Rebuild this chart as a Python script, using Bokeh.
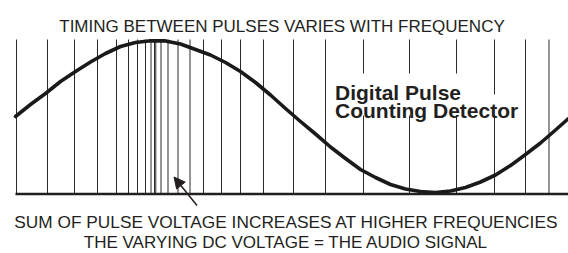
from bokeh.plotting import figure
from bokeh.models import Range1d, Label, Arrow, NormalHead, ColumnDataSource, BoxAnnotation
from bokeh.embed import file_html
from bokeh.resources import INLINE

# ---- data (units = drawing units) ----
pulse_times = [16, 47, 74, 97, 116, 128, 137, 145, 150.5, 154, 155.3, 160.5,
               167.5, 177.5, 189.5, 203, 221, 240, 263, 293, 325, 363, 409,
               456, 494, 525, 548.5]

signal_t = [15, 30, 45, 60, 75, 90, 105, 120, 135, 150, 165, 180, 195, 210,
            225, 240, 255, 270, 285, 300, 315, 330, 345, 360, 375, 390, 405,
            420, 435, 450, 465, 480, 495, 510, 525, 540, 555, 568]
signal_v = [116, 104, 93, 81, 71, 61.5, 53, 46, 42, 40.2, 40.4, 43.5, 49,
            54.5, 62, 71, 82, 94.5, 108, 121, 133.5, 146.5, 158, 169, 177,
            184, 188.5, 191, 192, 190.5, 187, 181.5, 174.5, 165, 154, 142.5,
            129.5, 118]

baseline_t = [15, 568]

title_text = "TIMING BETWEEN PULSES VARIES WITH FREQUENCY"
note1_text = "SUM OF PULSE VOLTAGE INCREASES AT HIGHER FREQUENCIES"
note2_text = "THE VARYING DC VOLTAGE = THE AUDIO SIGNAL"
label1_text = "Digital Pulse"
label2_text = "Counting Detector"

# ---- layout / style constants ----
INK = "#231f20"
PULSE_TOP = 39
BASE_Y = 193.5
FONT = "Liberation Sans"

p = figure(width=568, height=253, output_backend="svg", toolbar_location=None,
           x_range=Range1d(0, 568), y_range=Range1d(253, 0),
           x_axis_type=None, y_axis_type=None,
           min_border=0, min_border_left=0, min_border_right=0,
           min_border_top=0, min_border_bottom=0)
p.outline_line_color = None
p.background_fill_color = "white"
p.border_fill_color = "white"

# pulses
src = ColumnDataSource(dict(x=pulse_times,
                            y0=[PULSE_TOP] * len(pulse_times),
                            y1=[BASE_Y] * len(pulse_times)))
p.segment(x0="x", y0="y0", x1="x", y1="y1", source=src,
          line_color="#2a2a2a", line_width=1)

# baseline
p.line(x=baseline_t, y=[BASE_Y] * len(baseline_t), line_color=INK, line_width=2.5)

# signal
p.line(x=signal_t, y=signal_v, line_color="#1a1a1a", line_width=3.6,
       line_join="round", line_cap="round")

# white backgrounds behind the detector label (interrupt the pulse lines)
for l, r, t, b in ((332, 463, 73, 95), (332, 521, 94, 115)):
    p.add_layout(BoxAnnotation(left=l, right=r, top=t, bottom=b,
                               fill_color="white", fill_alpha=1,
                               line_color=None))

for txt, yb in ((label1_text, 92.3), (label2_text, 110)):
    p.add_layout(Label(x=334.5, y=yb, text=txt, text_font=FONT,
                       text_font_size="21px", text_font_style="bold",
                       text_color=INK, text_baseline="alphabetic"))

# texts
p.add_layout(Label(x=281.5, y=25.5, text=title_text, text_font=FONT,
                   text_font_size="17px", text_color=INK,
                   text_align="center", text_baseline="alphabetic"))
p.add_layout(Label(x=286, y=221, text=note1_text, text_font=FONT,
                   text_font_size="17.3px", text_color=INK,
                   text_align="center", text_baseline="alphabetic"))
p.add_layout(Label(x=285.5, y=242, text=note2_text, text_font=FONT,
                   text_font_size="17px", text_color=INK,
                   text_align="center", text_baseline="alphabetic"))

# arrow
p.add_layout(Arrow(x_start=196.5, y_start=205, x_end=173.5, y_end=176.5,
                   line_color=INK, line_width=1.5,
                   end=NormalHead(size=11, fill_color=INK, line_color=INK)))

open("out.html", "w").write(file_html(p, INLINE))
